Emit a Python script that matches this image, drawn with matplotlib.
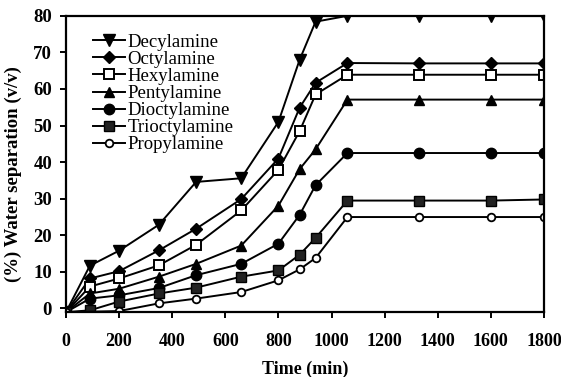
import numpy as np
import matplotlib.pyplot as plt

# time points (min)
t = [0, 90, 200, 350, 490, 660, 800, 880, 940, 1060, 1330, 1600, 1800]
t_prop = [0, 200, 350, 490, 660, 800, 880, 940, 1060, 1330, 1600, 1800]

decyl = [-1, 11.7, 15.8, 22.9, 34.6, 35.6, 51.0, 68.0, 78.4, 80.0, 80.0, 80.0, 80.0]
octyl = [-1, 8.2, 10.2, 15.9, 21.8, 29.9, 41.0, 54.9, 61.7, 67.1, 67.0, 67.0, 67.0]
hexyl = [-1, 6.0, 8.2, 11.8, 17.4, 26.8, 37.9, 48.5, 58.5, 63.9, 63.9, 63.9, 63.9]
pentyl = [-1, 4.1, 5.4, 8.7, 12.2, 17.2, 28.1, 38.1, 43.5, 57.1, 57.1, 57.1, 57.1]
dioctyl = [-1, 2.7, 3.6, 5.6, 9.1, 12.2, 17.7, 25.6, 33.7, 42.5, 42.5, 42.5, 42.5]
trioctyl = [-1, -0.5, 1.9, 4.1, 5.7, 8.7, 10.4, 14.7, 19.3, 29.5, 29.5, 29.5, 29.8]
propyl = [-1, -0.7, 1.4, 2.7, 4.5, 7.7, 10.7, 13.8, 25.0, 25.0, 25.0, 25.0]

xticks = [0, 200, 400, 600, 800, 1000, 1200, 1400, 1600, 1800]
yticks = [0, 10, 20, 30, 40, 50, 60, 70, 80]

plt.rcParams['font.family'] = 'Liberation Serif'

fig = plt.figure(figsize=(5.61, 3.77), dpi=100)
ax = fig.add_axes([0.1176, 0.172, 0.852, 0.786])

k = dict(color='black', lw=1.4, markeredgecolor='black')
ax.plot(t, decyl, marker='v', ms=8, label='Decylamine', **k)
ax.plot(t, octyl, marker='D', ms=6, label='Octylamine', **k)
ax.plot(t, hexyl, marker='s', ms=6.5, mfc='white', mew=1.4, label='Hexylamine', **k)
ax.plot(t, pentyl, marker='^', ms=7.5, label='Pentylamine', **k)
ax.plot(t, dioctyl, marker='o', ms=7.5, label='Dioctylamine', **k)
ax.plot(t, trioctyl, marker='s', ms=6.5, mfc='#222222', label='Trioctylamine', **k)
ax.plot(t_prop, propyl, marker='o', ms=5.5, mfc='white', mew=1.3, label='Propylamine', **k)

ax.set_xlim(0, 1800)
ax.set_ylim(-1, 80)
ax.set_xticks(xticks)
ax.set_yticks(yticks)
for s in ax.spines.values():
    s.set_linewidth(1.6)
ax.tick_params(direction='out', length=4, width=1.4)
ax.tick_params(axis='x', labelsize=13, pad=11)
ax.tick_params(axis='y', labelsize=13.5, pad=6)
for lb in ax.get_xticklabels() + ax.get_yticklabels():
    lb.set_fontweight('bold')

ax.set_xlabel('Time (min)', fontsize=13, fontweight='bold')
ax.xaxis.set_label_coords(0.5, -0.163)
ax.set_ylabel('(%) Water separation (v/v)', fontsize=13.5, fontweight='bold')
ax.yaxis.set_label_coords(-0.092, 0.466)

ax.legend(loc='upper left', bbox_to_anchor=(0.056, 0.94), frameon=False,
          fontsize=13.5, labelspacing=0.0, handlelength=1.7, handletextpad=0.15,
          borderpad=0, borderaxespad=0)

fig.savefig('out.png', dpi=100)
